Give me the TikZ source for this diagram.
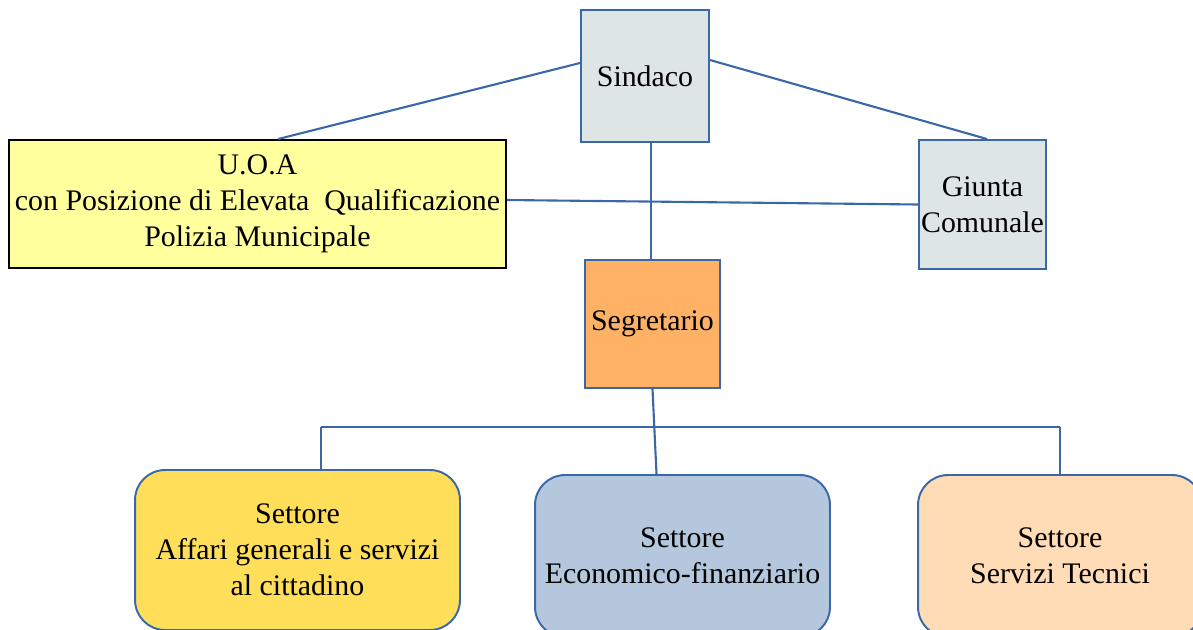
\documentclass[tikz,border=0pt]{standalone}
\usepackage{fontspec}
\setmainfont{Liberation Serif}
\usetikzlibrary{positioning,calc}

\definecolor{linkblue}{HTML}{3A67A8}
\definecolor{greyfill}{HTML}{DEE6E5}
\definecolor{uoafill}{HTML}{FFFF9E}
\definecolor{segfill}{HTML}{FFB266}
\definecolor{affarifill}{HTML}{FFDE59}
\definecolor{econfill}{HTML}{B4C7DC}
\definecolor{tecfill}{HTML}{FFDBB6}

\begin{document}
\begin{tikzpicture}[x=0.02cm,y=-0.02cm,
    every node/.style={align=center, inner sep=0pt,
        font=\fontsize{17}{20.5}\selectfont},
    box/.style={draw=linkblue, line width=1.1pt, rectangle},
    sector/.style={box, rounded corners=0.6cm},
    link/.style={draw=linkblue, line width=1.2pt},
]
\clip (0,0) rectangle (1193,629);
\node[box, fill=greyfill, minimum width=2.56cm, minimum height=2.64cm]
    (sindaco) at (645,76) {Sindaco};
\node[box, fill=greyfill, minimum width=2.54cm, minimum height=2.58cm]
    (giunta) at (982.5,204.5) {Giunta\\Comunale};
\node[box, draw=black, fill=uoafill, minimum width=9.94cm, minimum height=2.56cm]
    (uoa) at (257.5,204) {U.O.A\\con Posizione di Elevata~ Qualificazione\\Polizia Municipale};
\node[box, fill=segfill, minimum width=2.7cm, minimum height=2.56cm]
    (seg) at (652.5,324) {Segretario};
\node[sector, fill=affarifill, minimum width=6.5cm, minimum height=3.2cm]
    (affari) at (297.5,550) {Settore\\Affari generali e servizi\\al cittadino};
\node[sector, fill=econfill, minimum width=5.9cm, minimum height=3.24cm]
    (econ) at (682.5,556) {Settore\\Economico-finanziario};
\node[sector, fill=tecfill, minimum width=5.68cm, minimum height=3.24cm]
    (tecnici) at (1060,556) {Settore\\Servizi Tecnici};

\coordinate (busl) at (321,427);
\coordinate (busr) at (1060,427);

\draw[link] ([yshift=0.26cm]sindaco.west) -- ([xshift=0.41cm]uoa.north);
\draw[link] ([yshift=0.32cm]sindaco.east) -- ([xshift=0.09cm]giunta.north);
\draw[link] ([xshift=-0.03cm]seg.north |- sindaco.south) -- ([xshift=-0.03cm]seg.north);
\draw[link] ([yshift=0.08cm]uoa.east) -- (giunta.west);
\draw[link] (seg.south) -- ([xshift=0.08cm]seg.south |- econ.north);
\draw[link] (busl) -- (busr);
\draw[link] (busl) -- (busl |- affari.north);
\draw[link] (busr) -- (tecnici.north);
\end{tikzpicture}
\end{document}
